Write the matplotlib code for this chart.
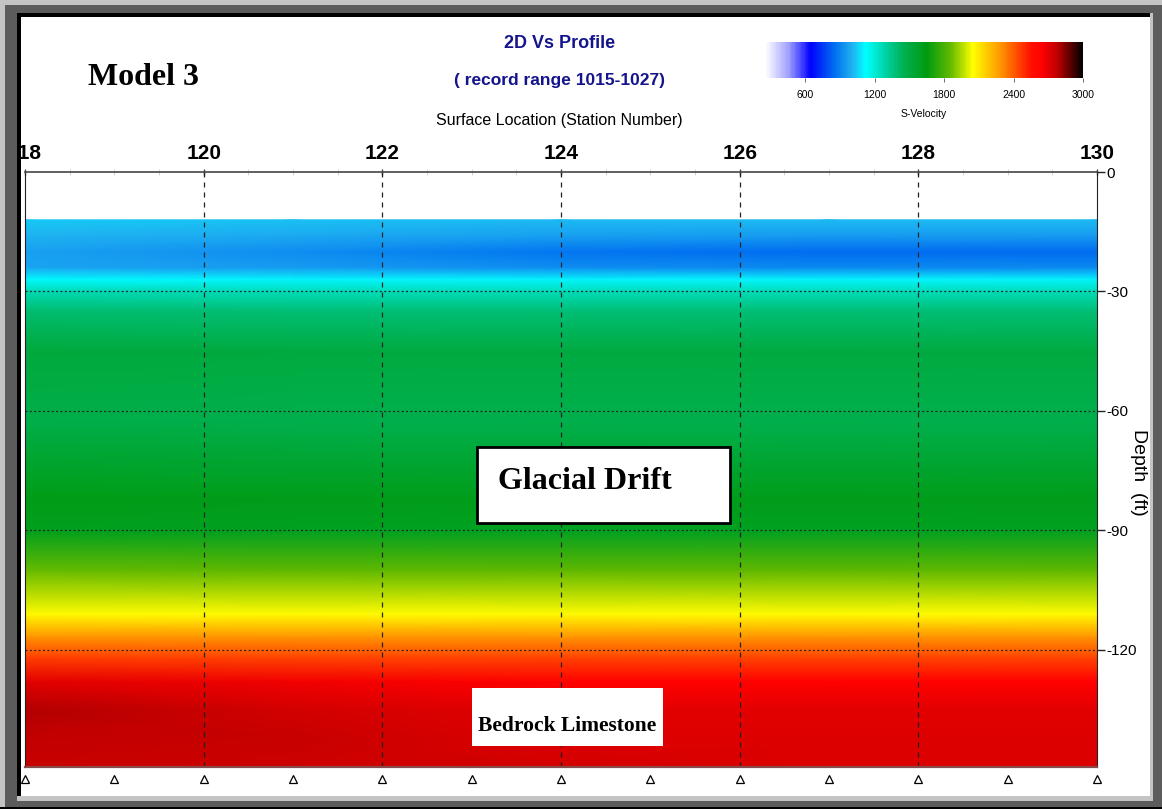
import numpy as np
import matplotlib.pyplot as plt
import matplotlib as mpl
from matplotlib.colors import LinearSegmentedColormap, Normalize
from matplotlib.patches import Rectangle

W, H = 1162, 809

# S-velocity model (ft, ft/s)
stations = [118, 121, 124, 127, 130]
depths = [12, 16, 20, 24, 27, 30, 35, 45, 55, 62, 70, 82, 90, 100, 111, 117, 122, 128, 135, 142, 149.4]
vs_118 = [1040, 1010, 960, 980, 1110, 1260, 1390, 1510, 1490, 1470, 1530, 1630, 1610, 1860, 2060, 2300, 2460, 2700, 2790, 2770, 2760]
vs_121 = [1030, 990, 920, 950, 1100, 1250, 1380, 1500, 1480, 1460, 1520, 1620, 1600, 1850, 2060, 2300, 2450, 2670, 2740, 2760, 2750]
vs_124 = [1020, 960, 870, 920, 1100, 1250, 1380, 1500, 1480, 1460, 1520, 1620, 1600, 1850, 2060, 2300, 2450, 2640, 2700, 2720, 2740]
vs_127 = [1020, 950, 850, 910, 1100, 1250, 1380, 1500, 1480, 1460, 1520, 1620, 1600, 1850, 2060, 2300, 2450, 2640, 2700, 2710, 2720]
vs_130 = [1020, 950, 850, 910, 1100, 1250, 1380, 1500, 1480, 1460, 1520, 1620, 1600, 1850, 2060, 2300, 2450, 2640, 2700, 2710, 2720]

cbar_ticks = [600, 1200, 1800, 2400, 3000]
depth_ticks = [0, -30, -60, -90, -120]
station_ticks = [118, 120, 122, 124, 126, 128, 130]
receivers = [118, 119, 120, 121, 122, 123, 124, 125, 126, 127, 128, 129, 130]

vmin, vmax = 250, 3000
stops = [(250, "#ffffff"), (450, "#a0a0ff"), (640, "#0000ff"), (850, "#0070f0"),
         (1000, "#20b0f0"), (1120, "#00ffff"), (1300, "#00d0a0"), (1450, "#00b050"),
         (1650, "#009a10"), (1850, "#60b800"), (2050, "#ffff00"), (2300, "#ff9000"),
         (2550, "#ff1000"), (2650, "#ff0000"), (2780, "#c00000"), (3000, "#000000")]
cmap = LinearSegmentedColormap.from_list(
    "vs", [((v - vmin) / (vmax - vmin), c) for v, c in stops])
norm = Normalize(vmin, vmax)

sans = ["Liberation Sans", "DejaVu Sans"]
serif = ["Liberation Serif", "DejaVu Serif"]


def fx(x):
    return x / W


def fy(y):
    return 1 - y / H


fig = plt.figure(figsize=(W / 100, H / 100), dpi=100)
fig.patch.set_facecolor("white")

# bevelled frame
for (x0, y0, x1, y1, c) in [(0, 0, W, 5, "#c4c4c4"), (0, 0, 5, H, "#c4c4c4"),
                            (5, 5, W, 13, "#5c5c5c"), (5, 5, 17, H, "#5c5c5c"),
                            (17, 13, W, 17, "#000000"), (17, 13, 21, 796, "#000000"),
                            (1150, 13, 1153, 800, "#c4c4c4"), (1153, 13, W, H, "#5c5c5c"),
                            (17, 796, 1153, 801, "#c4c4c4"), (5, 801, W, 807, "#5c5c5c"),
                            (0, 807, W, H, "#000000")]:
    fig.add_artist(Rectangle((fx(x0), fy(y1)), fx(x1 - x0), (y1 - y0) / H,
                             transform=fig.transFigure, facecolor=c,
                             edgecolor="none", zorder=10))

ax = fig.add_axes([fx(25), fy(767), fx(1097 - 25), (767 - 172) / H])
vs = np.array([vs_118, vs_121, vs_124, vs_127, vs_130]).T
X, Y = np.meshgrid(stations, -np.array(depths))
ax.pcolormesh(X, Y, vs, cmap=cmap, norm=norm, shading="gouraud", zorder=0)
ax.set_xlim(118, 130)
ax.set_ylim(-149.4, 0)

for s in station_ticks[1:-1]:
    ax.axvline(s, color="#222222", lw=0.9, ls=(0, (4, 4)), zorder=2)
for d in depth_ticks[1:]:
    ax.axhline(d, color="#222222", lw=0.9, ls=(0, (1.5, 2)), zorder=2)

ax.spines["left"].set_color("#222222")
ax.spines["right"].set_color("#222222")
ax.spines["top"].set_color("#444444")
ax.spines["top"].set_linewidth(1.2)
ax.spines["bottom"].set_color("#8a4a4a")
ax.spines["bottom"].set_linewidth(1.6)

ax.xaxis.tick_top()
ax.set_xticks(station_ticks)
ax.set_xticklabels([str(s) for s in station_ticks], family=sans,
                   fontweight="bold", fontsize=15)
ax.set_xticks(np.arange(118, 130.01, 0.5), minor=True)
ax.tick_params(axis="x", which="major", length=5, width=1, color="#444444", pad=4,
               direction="inout")
ax.tick_params(axis="x", which="minor", length=5, width=0.6, color="#cccccc",
               direction="inout")

ax.yaxis.tick_right()
ax.set_yticks(depth_ticks)
ax.set_yticklabels([str(d) for d in depth_ticks], family=sans, fontsize=11)
ax.tick_params(axis="y", length=6, width=1, color="#222222", pad=1)

ax.plot(receivers, [-152.3] * len(receivers), ls="none", marker="^", ms=6,
        mfc="white", mec="black", mew=0.9, clip_on=False)

fig.text(fx(1138), fy(472), "Depth  (ft)", rotation=-90, ha="center", va="center",
         fontsize=14, family=sans)

# titles
fig.text(fx(143), fy(85), "Model 3", ha="center", va="baseline", fontsize=23,
         fontweight="bold", family=serif)
fig.text(fx(560), fy(44), "2D Vs Profile", ha="center", va="center", fontsize=13,
         fontweight="bold", color="#14148c", family=sans)
fig.text(fx(560), fy(80), "( record range 1015-1027)", ha="center", va="center",
         fontsize=12.5, fontweight="bold", color="#14148c", family=sans)
fig.text(fx(559), fy(120), "Surface Location (Station Number)", ha="center",
         va="center", fontsize=11.5, color="black", family=sans)

# colour scale
cax = fig.add_axes([fx(765), fy(78), fx(1083 - 765), (78 - 42) / H])
cb = mpl.colorbar.ColorbarBase(cax, cmap=cmap, norm=norm, orientation="horizontal")
cb.outline.set_visible(False)
cb.set_ticks(cbar_ticks)
cb.set_ticklabels([str(t) for t in cbar_ticks])
cax.tick_params(length=3, width=0.6, color="#555555", labelsize=7.5, pad=6)
for lab in cax.get_xticklabels():
    lab.set_family(sans)
fig.text(fx(924), fy(114), "S-Velocity", ha="center", va="center", fontsize=7.5,
         family=sans)

# annotation boxes
ax.add_artist(Rectangle((fx(477), fy(523)), fx(730 - 477), (523 - 447) / H,
                        transform=fig.transFigure, facecolor="white",
                        edgecolor="black", lw=2, zorder=5))
fig.text(fx(498), fy(489), "Glacial Drift", ha="left", va="baseline", fontsize=23,
         fontweight="bold", family=serif, zorder=6)
ax.add_artist(Rectangle((fx(472), fy(746)), fx(663 - 472), (746 - 688) / H,
                        transform=fig.transFigure, facecolor="white",
                        edgecolor="none", zorder=5))
fig.text(fx(567), fy(731), "Bedrock Limestone", ha="center", va="baseline",
         fontsize=15.5, fontweight="bold", family=serif, zorder=6)

fig.savefig("out.png", dpi=100)
